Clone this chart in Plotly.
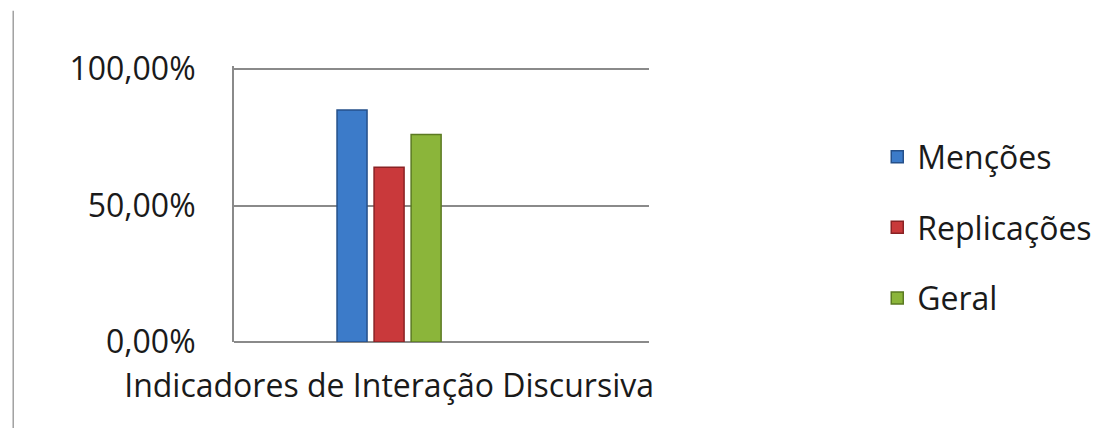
import plotly.graph_objects as go

categories = ["Indicadores de Interação Discursiva"]
series_names = ["Menções", "Replicações", "Geral"]
mencoes = [0.85]
replicacoes = [0.64]
geral = [0.76]
y_ticks = [0, 0.5, 1.0]

colors = ["#3c7bc9", "#c9393b", "#8bb53a"]
lines = ["#25508a", "#8a2224", "#5b7a22"]

fig = go.Figure()
for name, vals, c, lc in zip(series_names, [mencoes, replicacoes, geral], colors, lines):
    fig.add_trace(go.Bar(
        x=categories, y=vals, name=name, legendgroup=name,
        marker=dict(color=c, line=dict(color=lc, width=1.5)),
    ))

fig.update_layout(
    width=1109, height=428,
    margin=dict(l=226, r=468, t=58, b=94),
    paper_bgcolor="white", plot_bgcolor="white",
    separators=",.",
    barmode="group", bargap=0.646, bargroupgap=0.19,
    font=dict(family="Open Sans", size=32, color="#1a1a1a"),
    showlegend=True,
    legend=dict(x=1.55, y=0.415, xanchor="left", yanchor="middle",
                traceorder="grouped", tracegroupgap=26,
                font=dict(size=32), itemwidth=30),
    shapes=[dict(type="line", xref="paper", yref="paper",
                 x0=-0.532, x1=-0.532, y0=1.2, y1=-0.45,
                 line=dict(color="#a0a0a0", width=1.5))],
)
fig.update_xaxes(range=[-0.494, 0.828], showgrid=False, showline=False,
                 ticks="", ticklabelstandoff=22, tickfont=dict(size=32))
fig.update_yaxes(range=[0, 1.011], tickvals=y_ticks, tickformat=".2%",
                 showgrid=True, gridcolor="#8a8a8a", gridwidth=2,
                 showline=True, linecolor="#8a8a8a", linewidth=2,
                 zeroline=True, zerolinecolor="#8a8a8a", zerolinewidth=2,
                 ticks="", ticklabelstandoff=30, tickfont=dict(size=32))

fig.write_html("out.html")
